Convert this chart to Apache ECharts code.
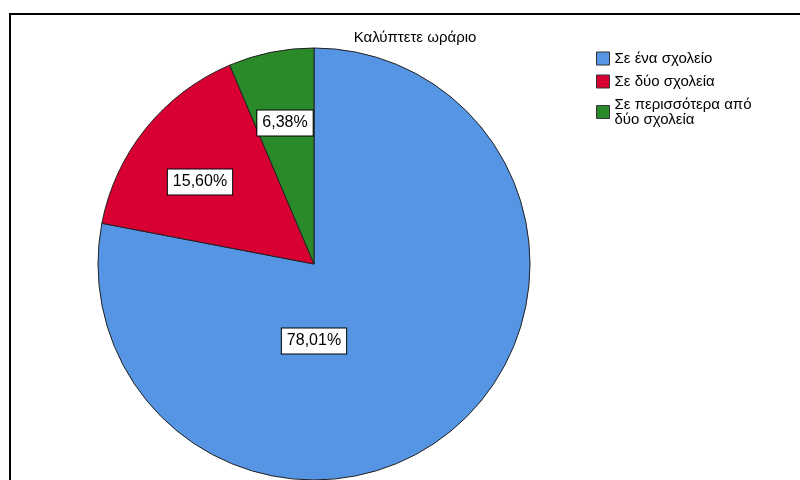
<!DOCTYPE html>
<html>
<head>
<meta charset="utf-8">
<script src="https://cdn.jsdelivr.net/npm/echarts@6/dist/echarts.min.js"></script>
<style>
  html, body { margin: 0; padding: 0; background: #fff; }
  #chart { width: 800px; height: 480px; }
</style>
</head>
<body>
<div id="chart"></div>
<script>
// data
const chartTitle = 'Καλύπτετε ωράριο';
const categories = ['Σε ένα σχολείο', 'Σε δύο σχολεία', 'Σε περισσότερα από\nδύο σχολεία'];
const percents = [78.01, 15.60, 6.38];
const sliceColors = ['#5595e3', '#d80032', '#2a8a2a'];

// label offsets from the pie centre (SPSS puts them in its own places)
const labelOffsets = [[0, 77], [-114, -82], [-29, -141]];

const pieCenter = [314, 264];
const pieRadius = 216;
const font = '"Liberation Sans", Arial, sans-serif';

const chart = echarts.init(document.getElementById('chart'));

const pieData = categories.map((name, i) => ({
    name: name,
    value: percents[i],
    itemStyle: { color: sliceColors[i] }
}));

const option = {
    animation: false,
    backgroundColor: '#fff',
    title: {
        text: chartTitle,
        left: 410,
        top: 25,
        textAlign: 'center',
        textStyle: {
            fontFamily: font,
            fontSize: 15,
            fontWeight: 'normal',
            color: '#000'
        }
    },
    legend: {
        orient: 'vertical',
        left: 596,
        top: 51,
        icon: 'rect',
        itemWidth: 13,
        itemHeight: 13,
        itemGap: 8,
        padding: 0,
        selectedMode: false,
        data: categories,
        itemStyle: { borderColor: '#333', borderWidth: 1 },
        textStyle: {
            fontFamily: font,
            fontSize: 15,
            lineHeight: 15,
            color: '#000'
        }
    },
    graphic: [{
        type: 'rect',
        shape: { x: 10, y: 14, width: 900, height: 600 },
        style: { fill: 'none', stroke: '#000', lineWidth: 2 },
        silent: true
    }],
    series: [{
        type: 'pie',
        center: pieCenter,
        radius: pieRadius,
        startAngle: 90,
        clockwise: true,
        silent: true,
        data: pieData,
        itemStyle: { borderColor: '#222', borderWidth: 1 },
        label: {
            show: true,
            position: 'inside',
            align: 'center',
            verticalAlign: 'middle',
            fontFamily: font,
            fontSize: 16,
            color: '#000',
            backgroundColor: '#fff',
            borderColor: '#000',
            borderWidth: 1,
            padding: [5, 5, 4, 5],
            formatter: p => p.value.toFixed(2).replace('.', ',') + '%'
        },
        labelLine: { show: false },
        labelLayout: function (params) {
            const off = labelOffsets[params.dataIndex];
            return { x: pieCenter[0] + off[0], y: pieCenter[1] + off[1] };
        }
    }]
};

chart.setOption(option);
</script>
</body>
</html>
